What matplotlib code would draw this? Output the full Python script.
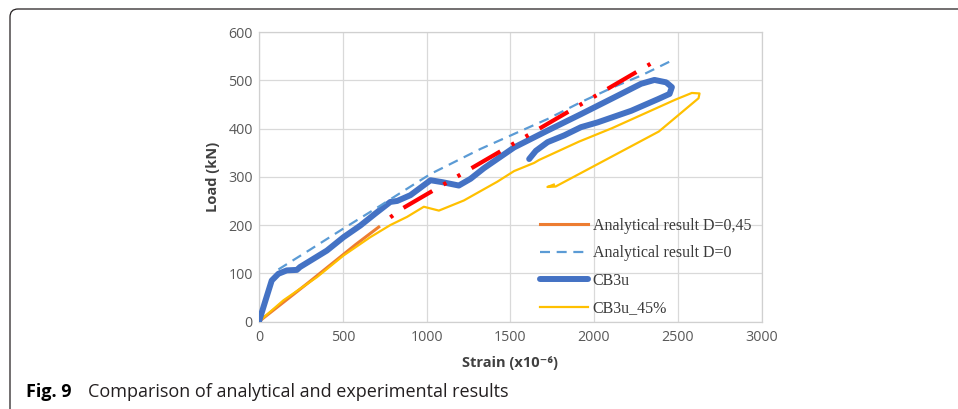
import numpy as np
import matplotlib
matplotlib.use("Agg")
import matplotlib.pyplot as plt
from matplotlib.patches import FancyBboxPatch
from matplotlib.transforms import IdentityTransform

# Données (strain x10^-6, load kN)
cb3u_x = [0, 40, 76, 116, 166, 226, 245, 325, 405, 505, 605, 695, 784, 825, 904,
          1024, 1094, 1193, 1263, 1343, 1523, 1723, 1922, 2122, 2281, 2361, 2431,
          2465, 2451, 2381, 2222, 2022, 1922, 1822, 1723, 1653, 1613]
cb3u_y = [0, 45, 85, 99, 106, 107, 113, 130, 147, 175, 199, 224, 248, 250, 262,
          293, 289, 282, 296, 318, 361, 396, 430, 465, 493, 501, 496,
          486, 472, 461, 437, 413, 403, 386, 372, 354, 337]

cb45_x = [0, 146, 346, 505, 665, 784, 884, 984, 1074, 1223, 1423, 1523, 1643, 1672,
          1910, 2108, 2306, 2485, 2584, 2630, 2624, 2387, 1771, 1722, 1760]
cb45_y = [0, 44, 92, 137, 175, 200, 217, 238, 230, 251, 290, 312, 329, 335,
          373, 401, 432, 460, 474, 473, 463, 394, 280, 279, 284]

d0_x = [116, 305, 505, 705, 864, 1024, 1323, 1523, 1723, 1922, 2122, 2281, 2481]
d0_y = [108, 149, 193, 236, 271, 306, 358, 389, 420, 455, 487, 510, 544]

d45_x = [0, 300, 575, 715]
d45_y = [0, 82, 159, 196]

d45b_x = [784, 854, 2355]
d45b_y = [216, 234, 538]

labels = ["Analytical result D=0,45", "Analytical result D=0", "CB3u", "CB3u_45%"]

plt.rcParams['font.family'] = ['Open Sans', 'DejaVu Sans']

fig = plt.figure(figsize=(9.58, 4.09), dpi=100)
ax = fig.add_axes([259 / 958, 87.5 / 409, 502.5 / 958, 289.3 / 409])

l_or, = ax.plot(d45_x, d45_y, color='#ED7D31', lw=2.2, zorder=2)
ax.plot(d45b_x, d45b_y, color='#FF0000', lw=3, zorder=5,
        linestyle=(0, (0.8, 3.1, 8, 3.1, 0.8, 3.1)))
l_y, = ax.plot(cb45_x, cb45_y, color='#FFC000', lw=1.6, zorder=2.5)
l_b, = ax.plot(cb3u_x, cb3u_y, color='#4472C4', lw=4.3, zorder=3,
               solid_capstyle='round', solid_joinstyle='round')
l_d, = ax.plot(d0_x, d0_y, color='#5B9BD5', lw=1.6, zorder=4,
               linestyle=(0, (4.5, 3)))

ax.set_xlim(0, 3000)
ax.set_ylim(0, 600)
ax.set_xticks(np.arange(0, 3001, 500))
ax.set_yticks(np.arange(0, 601, 100))
ax.grid(True, color='#d9d9d9', lw=0.9)
ax.set_axisbelow(True)
for s in ax.spines.values():
    s.set_color('#d0d0d0')
    s.set_linewidth(0.9)
ax.tick_params(length=0, labelsize=10.3, labelcolor='#595959')
ax.tick_params(axis='x', pad=6)
ax.tick_params(axis='y', pad=4.5)

ax.set_xlabel('Strain (x10⁻⁶)', fontsize=10.5, fontweight='bold', color='#404040', labelpad=8)
ax.set_ylabel('Load (kN)', fontsize=10.5, fontweight='bold', color='#404040', labelpad=6)

leg = ax.legend([l_or, l_d, l_b, l_y], labels, loc='upper left',
                bbox_to_anchor=(0.559, 0.358), frameon=False, borderaxespad=0,
                borderpad=0, handlelength=3, handletextpad=0.3, labelspacing=0.72,
                prop={'family': 'Liberation Serif', 'size': 11.5})
for t in leg.get_texts():
    t.set_color('#3a3a3a')

# cadre de la figure
box = FancyBboxPatch((10, -60), 1000, 460, boxstyle='round,pad=0,rounding_size=8',
                     transform=IdentityTransform(), fill=False, ec='#231f20', lw=0.9)
fig.patches.append(box)

fig.text(26 / 958, 17 / 409, 'Fig. 9', fontsize=13, fontweight='bold', va='center')
fig.text(88 / 958, 17 / 409, 'Comparison of analytical and experimental results',
         fontsize=13, va='center', color='#231f20')

fig.savefig('out.png', dpi=100)
